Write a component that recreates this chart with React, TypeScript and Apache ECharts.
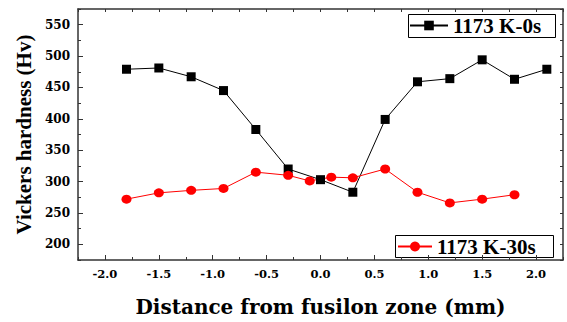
import React, { useEffect, useRef } from "react";
import * as echarts from "echarts";

const blackX = [-1.8, -1.5, -1.2, -0.9, -0.6, -0.3, 0, 0.3, 0.6, 0.9, 1.2, 1.5, 1.8, 2.1];
const blackY = [479, 481, 467, 445, 383, 320, 303, 283, 399, 459, 464, 494, 463, 479];
const redX = [-1.8, -1.5, -1.2, -0.9, -0.6, -0.3, -0.1, 0.1, 0.3, 0.6, 0.9, 1.2, 1.5, 1.8];
const redY = [272, 282, 286, 289, 315, 310, 301, 307, 306, 320, 283, 266, 272, 279];
const xMajor = [-2.0, -1.5, -1.0, -0.5, 0.0, 0.5, 1.0, 1.5, 2.0];
const xMinor = [-2.25, -1.75, -1.25, -0.75, -0.25, 0.25, 0.75, 1.25, 1.75, 2.25];
const yMajor = [200, 250, 300, 350, 400, 450, 500, 550];
const yMinor = [175, 225, 275, 325, 375, 425, 475, 525, 575];
const seriesNames = ["1173 K-0s", "1173 K-30s"];

const SERIF = "'Liberation Serif', 'Times New Roman', serif";
const DEJAVU = "'DejaVu Serif', serif";
const AXIS_COLOR = "#333";

export default function App() {
  const ref = useRef<HTMLDivElement>(null);
  useEffect(() => {
    if (!ref.current) return;
    const chart = echarts.init(ref.current, null, { renderer: "svg" });
    const xAll = [...xMajor, ...xMinor].sort((a, b) => a - b);
    const yAll = [...yMajor, ...yMinor].sort((a, b) => a - b);
    const baseX = { type: "value", min: -2.25, max: 2.25, splitLine: { show: false } };
    const baseY = { type: "value", min: 175, max: 575, splitLine: { show: false } };
    const line = { show: true, onZero: false, lineStyle: { color: AXIS_COLOR, width: 1.5 } };
    chart.setOption({
      animation: false,
      backgroundColor: "#fff",
      grid: { left: 78, right: 4, top: 9, bottom: 55, containLabel: false },
      xAxis: [
        {
          ...baseX,
          position: "bottom",
          name: "Distance from fusilon zone (mm)",
          nameLocation: "middle",
          nameGap: 37,
          nameTextStyle: { fontFamily: DEJAVU, fontWeight: "bold", fontSize: 20, color: "#000" },
          axisLine: line,
          axisTick: { show: true, inside: true, length: 5, customValues: xMajor, lineStyle: { color: AXIS_COLOR, width: 1 } },
          axisLabel: {
            show: true,
            customValues: xMajor,
            margin: 8,
            formatter: (v: number) => v.toFixed(1),
            fontFamily: DEJAVU,
            fontWeight: "bold",
            fontSize: 11.5,
            color: "#000",
          },
        },
        {
          ...baseX,
          position: "bottom",
          axisLine: { show: false, onZero: false },
          axisTick: { show: true, inside: true, length: 3, customValues: xMinor, lineStyle: { color: AXIS_COLOR, width: 1 } },
          axisLabel: { show: false },
        },
        {
          ...baseX,
          position: "top",
          axisLine: line,
          axisTick: { show: true, inside: true, length: 3, customValues: xAll, lineStyle: { color: AXIS_COLOR, width: 1 } },
          axisLabel: { show: false },
        },
      ],
      yAxis: [
        {
          ...baseY,
          position: "left",
          name: "Vickers hardness (Hv)",
          nameLocation: "middle",
          nameGap: 43,
          nameTextStyle: { fontFamily: SERIF, fontWeight: "bold", fontSize: 21, color: "#000" },
          axisLine: line,
          axisTick: { show: true, inside: true, length: 5, customValues: yMajor, lineStyle: { color: AXIS_COLOR, width: 1 } },
          axisLabel: {
            show: true,
            customValues: yMajor,
            margin: 8,
            fontFamily: DEJAVU,
            fontWeight: "bold",
            fontSize: 12,
            color: "#000",
          },
        },
        {
          ...baseY,
          position: "left",
          axisLine: { show: false, onZero: false },
          axisTick: { show: true, inside: true, length: 3, customValues: yMinor, lineStyle: { color: AXIS_COLOR, width: 1 } },
          axisLabel: { show: false },
        },
        {
          ...baseY,
          position: "right",
          axisLine: line,
          axisTick: { show: true, inside: true, length: 3, customValues: yAll, lineStyle: { color: AXIS_COLOR, width: 1 } },
          axisLabel: { show: false },
        },
      ],
      legend: [
        {
          data: [seriesNames[0]],
          left: 409,
          top: 15,
          padding: 0,
          itemWidth: 38,
          itemHeight: 12,
          textStyle: { fontFamily: SERIF, fontWeight: "bold", fontSize: 21, color: "#000" },
        },
        {
          data: [seriesNames[1]],
          left: 397,
          top: 236,
          padding: 0,
          itemWidth: 34,
          itemHeight: 12.5,
          textStyle: { fontFamily: SERIF, fontWeight: "bold", fontSize: 21, color: "#000" },
        },
      ],
      graphic: [
        { type: "rect", z: 0, shape: { x: 408.5, y: 14.5, width: 147, height: 23 }, style: { fill: "transparent", stroke: "#000", lineWidth: 1 } },
        { type: "rect", z: 0, shape: { x: 395.5, y: 235.5, width: 158, height: 22 }, style: { fill: "transparent", stroke: "#000", lineWidth: 1 } },
      ],
      series: [
        {
          name: seriesNames[0],
          type: "line",
          xAxisIndex: 0,
          yAxisIndex: 0,
          data: blackX.map((x, i) => [x, blackY[i]]),
          symbol: "rect",
          symbolSize: 9,
          itemStyle: { color: "#000" },
          lineStyle: { color: "#000", width: 1 },
        },
        {
          name: seriesNames[1],
          type: "line",
          xAxisIndex: 0,
          yAxisIndex: 0,
          data: redX.map((x, i) => [x, redY[i]]),
          symbol: "circle",
          symbolSize: [10, 9],
          itemStyle: { color: "#ff0000" },
          lineStyle: { color: "#ff0000", width: 1 },
        },
      ],
    });
    return () => chart.dispose();
  }, []);
  return (
    <div style={{ position: "fixed", left: 0, top: 0, width: 567, height: 322, background: "#fff" }}>
      <div ref={ref} style={{ width: 567, height: 322 }} />
    </div>
  );
}
